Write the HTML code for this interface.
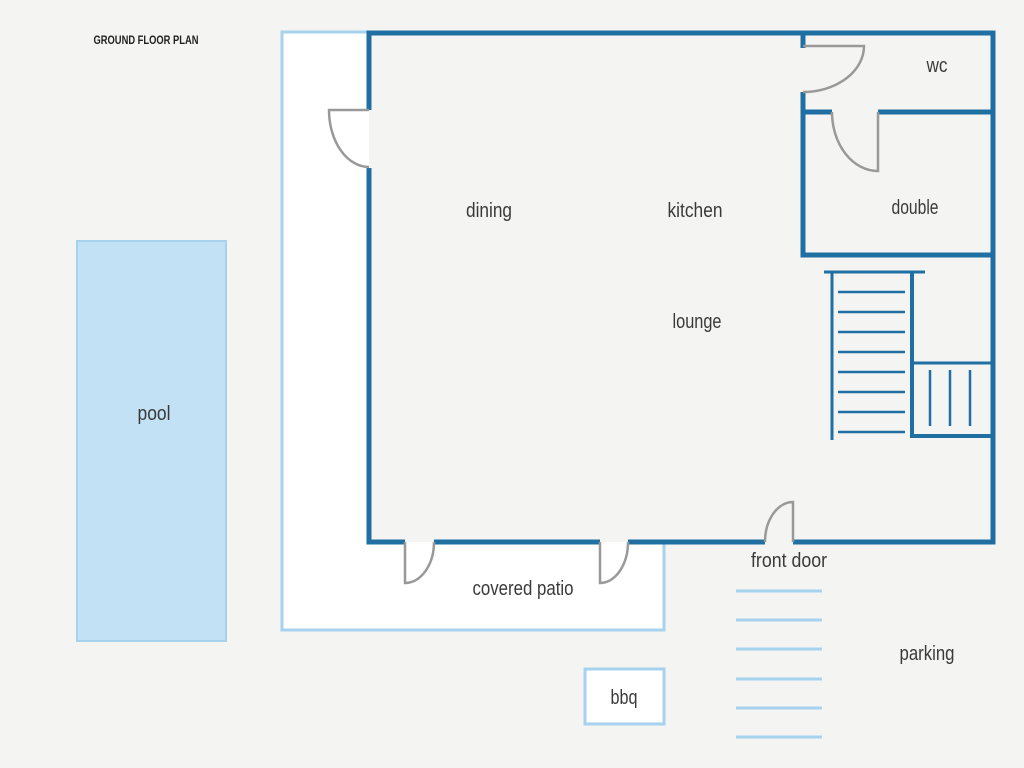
<!DOCTYPE html>
<html><head><meta charset="utf-8"><style>
html,body{margin:0;padding:0;background:#f4f4f3;}
svg{display:block}
text{font-family:"Liberation Sans",sans-serif;fill:#3a3a3a;font-size:20px;text-anchor:middle}
</style></head><body>
<svg width="1024" height="768" viewBox="0 0 1024 768" xmlns="http://www.w3.org/2000/svg">
<rect width="1024" height="768" fill="#f4f4f3"/>
<text x="146" y="44" textLength="105" lengthAdjust="spacingAndGlyphs" style="font-size:12px;font-weight:bold;fill:#222">GROUND FLOOR PLAN</text>
<!-- pool -->
<rect x="77" y="241" width="149" height="400" fill="#c2e1f5" stroke="#a6d2ee" stroke-width="2"/>
<text x="154" y="420" textLength="33" lengthAdjust="spacingAndGlyphs">pool</text>
<!-- patio L -->
<path d="M282,32 H369 V542 H664 V630 H282 Z" fill="#ffffff" stroke="#a6d2ee" stroke-width="3"/>
<!-- house interior -->
<rect x="369" y="33" width="624" height="509" fill="#f4f4f3"/>
<g stroke="#1f6fa3" stroke-width="5" fill="none">
<path d="M369,110 V33 H993 V542 H793"/>
<path d="M369,168 V542 H405"/>
<path d="M434,542 H600"/>
<path d="M628,542 H765"/>
<path d="M803,33 V48"/>
<path d="M803,92 V255 H993"/>
<path d="M803,112 H832"/>
<path d="M878,112 H993"/>
</g>
<!-- doors -->
<g stroke="#999" stroke-width="2.5" fill="none">
<path d="M369,110 H329 A40,57 0 0 0 369,167" fill="#fff"/>
<path d="M803,46 H864 A61,46 0 0 1 803,92"/>
<path d="M878,112 V171 A46,59 0 0 1 832,112"/>
<path d="M405,542 V583 A29,41 0 0 0 434,542" fill="#fff"/>
<path d="M600,542 V583 A28,41 0 0 0 628,542" fill="#fff"/>
<path d="M793,542 V502 A28,40 0 0 0 765,542"/>
</g>
<!-- stairs -->
<g stroke="#1f6fa3" fill="none">
<path d="M824,272 H925" stroke-width="3"/>
<path d="M832,272 V440" stroke-width="3"/>
<path d="M912,272 V436 H993" stroke-width="4"/>
<path d="M912,363 H993" stroke-width="3"/>
<g stroke-width="2.5">
<path d="M838,292H905M838,312H905M838,332H905M838,352H905M838,372H905M838,392H905M838,412H905M838,432H905"/>
<path d="M930,370V426M950,370V426M970,370V426"/>
</g>
</g>
<!-- front steps -->
<g stroke="#a6d2ee" stroke-width="3">
<path d="M736,591H822M736,620H822M736,649H822M736,679H822M736,708H822M736,737H822"/>
</g>
<!-- bbq -->
<rect x="585" y="669" width="79" height="55" fill="#fff" stroke="#a6d2ee" stroke-width="3"/>
<text x="624" y="704" textLength="27" lengthAdjust="spacingAndGlyphs">bbq</text>
<text x="489" y="217" textLength="46" lengthAdjust="spacingAndGlyphs">dining</text>
<text x="695" y="217" textLength="55" lengthAdjust="spacingAndGlyphs">kitchen</text>
<text x="697" y="328" textLength="49" lengthAdjust="spacingAndGlyphs">lounge</text>
<text x="937" y="72" textLength="21" lengthAdjust="spacingAndGlyphs">wc</text>
<text x="915" y="214" textLength="47" lengthAdjust="spacingAndGlyphs">double</text>
<text x="523" y="595" textLength="101" lengthAdjust="spacingAndGlyphs">covered patio</text>
<text x="789" y="567" textLength="76" lengthAdjust="spacingAndGlyphs">front door</text>
<text x="927" y="660" textLength="55" lengthAdjust="spacingAndGlyphs">parking</text>
</svg>
</body></html>
